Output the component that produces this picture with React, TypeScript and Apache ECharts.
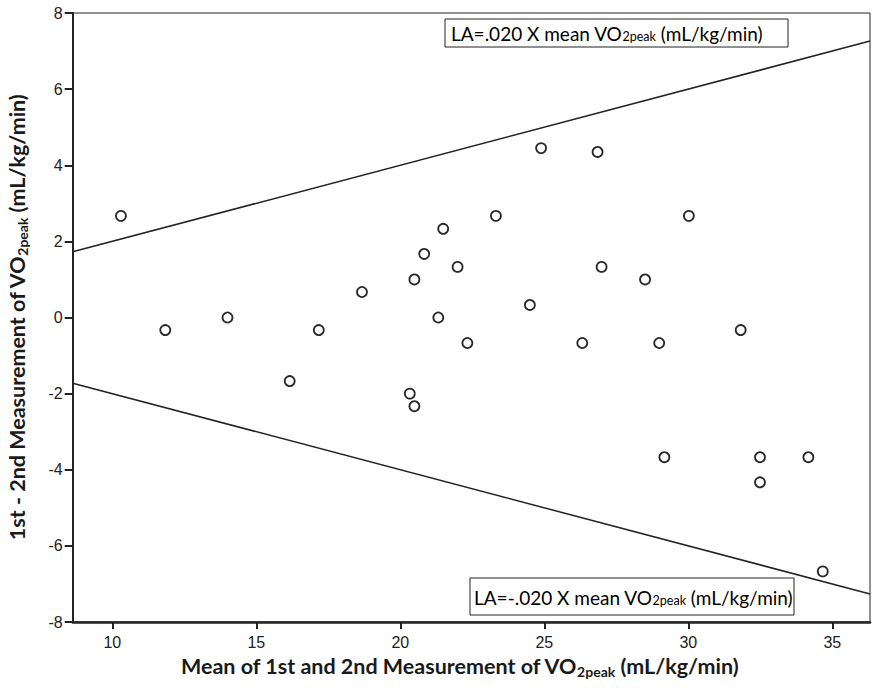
import React, { useEffect, useRef } from "react";
import * as echarts from "echarts";

const meanX = [10.3, 11.84, 14.0, 16.16, 17.17, 18.67, 20.33, 20.49, 20.49, 20.83, 21.32, 21.49, 21.99, 22.33, 23.32, 24.5, 24.89, 26.32, 26.85, 26.99, 28.5, 28.99, 29.17, 30.02, 31.82, 32.49, 32.49, 34.17, 34.67];
const diffY = [2.67, -0.33, 0, -1.67, -0.33, 0.67, -2, -2.33, 1, 1.67, 0, 2.33, 1.33, -0.67, 2.67, 0.33, 4.45, -0.67, 4.35, 1.33, 1, -0.67, -3.67, 2.67, -0.33, -3.67, -4.33, -3.67, -6.67];

const limitX = [8.625, 36.31];
const upperY = [1.725, 7.262];
const lowerY = [-1.725, -7.262];

const xTicks = [10, 15, 20, 25, 30, 35];
const yMin = -8;
const yMax = 8;
const yStep = 2;

const titleFont = "Lato, 'Open Sans', sans-serif";
const tickFont = "'Liberation Sans Narrow', 'Liberation Sans', Arial, sans-serif";

export default function App() {
  const ref = useRef<HTMLDivElement>(null);
  useEffect(() => {
    if (!ref.current) return;
    const chart = echarts.init(ref.current, undefined, { renderer: "svg" });
    const titleRich = {
      t: { fontFamily: titleFont, fontWeight: "bold", fontSize: 21.5, color: "#1a1a1a", lineHeight: 26 },
      s: { fontFamily: titleFont, fontWeight: "bold", fontSize: 14, color: "#1a1a1a", lineHeight: 26, verticalAlign: "bottom", padding: [8, 0, 0, 0] },
    };
    const boxRich = {
      t: { fontFamily: titleFont, fontSize: 19, color: "#1a1a1a", lineHeight: 24 },
      s: { fontFamily: titleFont, fontSize: 12.5, color: "#1a1a1a", lineHeight: 24, padding: [7, 0, 0, 0] },
    };
    chart.setOption({
      animation: false,
      backgroundColor: "#ffffff",
      grid: {
        left: 72.7,
        top: 13,
        width: 797.3,
        height: 609,
        show: true,
        borderColor: "#222",
        borderWidth: 1,
        containLabel: false,
        outerBoundsMode: "none",
      },
      xAxis: {
        type: "value",
        min: limitX[0],
        max: limitX[1],
        name: "{t|Mean of 1st and 2nd Measurement of VO}{s|2peak}{t| (mL/kg/min)}",
        nameLocation: "middle",
        nameGap: 30,
        nameTextStyle: { rich: titleRich, padding: [0, 24, 0, 0] },
        axisLine: { show: true, onZero: false, lineStyle: { color: "#222", width: 2.5 } },
        axisTick: { show: true, length: 7, customValues: xTicks, lineStyle: { color: "#222", width: 2 } },
        axisLabel: { customValues: xTicks, margin: 12, fontFamily: tickFont, fontSize: 16, color: "#222" },
        splitLine: { show: false },
      },
      yAxis: {
        type: "value",
        min: yMin,
        max: yMax,
        interval: yStep,
        name: "{t|1st - 2nd Measurement of VO}{s|2peak}{t| (mL/kg/min)}",
        nameLocation: "middle",
        nameRotate: 90,
        nameGap: 43,
        nameTextStyle: { rich: titleRich, padding: [0, 0, 0, 0] },
        axisLine: { show: true, onZero: false, lineStyle: { color: "#222", width: 2 } },
        axisTick: { show: true, length: 8, lineStyle: { color: "#222", width: 2 } },
        axisLabel: { margin: 10, fontFamily: tickFont, fontSize: 16, color: "#222" },
        splitLine: { show: false },
      },
      series: [
        {
          type: "line",
          data: [[limitX[0], upperY[0]], [limitX[1], upperY[1]]],
          symbol: "none",
          lineStyle: { color: "#222", width: 1.5 },
          silent: true,
        },
        {
          type: "line",
          data: [[limitX[0], lowerY[0]], [limitX[1], lowerY[1]]],
          symbol: "none",
          lineStyle: { color: "#222", width: 1.5 },
          silent: true,
        },
        {
          type: "scatter",
          data: meanX.map((x, i) => [x, diffY[i]]),
          symbol: "circle",
          symbolSize: 10,
          itemStyle: { color: "#ffffff", borderColor: "#2a2a2a", borderWidth: 1.8, opacity: 1 },
        },
      ],
      graphic: [
        {
          type: "rect",
          shape: { x: 445, y: 19, width: 343, height: 28 },
          style: { fill: "#ffffff", stroke: "#222", lineWidth: 1 },
          z: 10,
        },
        {
          type: "text",
          x: 451,
          y: 33,
          style: {
            text: "{t|LA=.020 X mean VO}{s|2peak}{t| (mL/kg/min)}",
            rich: boxRich,
            verticalAlign: "middle",
          },
          z: 11,
        },
        {
          type: "rect",
          shape: { x: 470, y: 578, width: 324, height: 37 },
          style: { fill: "#ffffff", stroke: "#222", lineWidth: 1 },
          z: 10,
        },
        {
          type: "text",
          x: 474,
          y: 597,
          style: {
            text: "{t|LA=-.020 X mean VO}{s|2peak}{t| (mL/kg/min)}",
            rich: boxRich,
            verticalAlign: "middle",
          },
          z: 11,
        },
      ],
    });
    return () => chart.dispose();
  }, []);
  return (
    <div
      ref={ref}
      style={{ position: "fixed", left: 0, top: 0, width: 872, height: 688, background: "#fff" }}
    />
  );
}
